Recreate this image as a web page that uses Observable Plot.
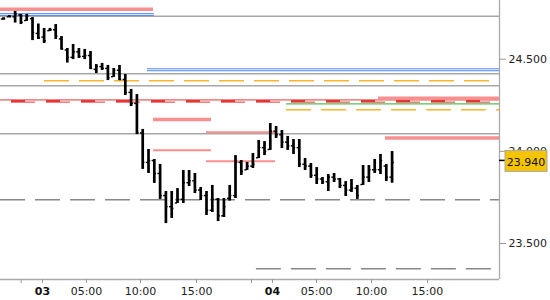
<!DOCTYPE html>
<html>
<head>
<meta charset="utf-8">
<script src="https://cdn.jsdelivr.net/npm/d3@7"></script>
<script src="https://cdn.jsdelivr.net/npm/@observablehq/plot@0.6"></script>
<style>
  html, body { margin: 0; padding: 0; background: #fff; }
  #chart svg { display: block; font-family: "DejaVu Sans", sans-serif; }
</style>
</head>
<body>
<div id="chart"></div>
<script>
// ---- OHLC bars (one per bar slot, left to right) ----
const highs = [24.725,24.737,24.759,24.743,24.743,24.726,24.691,24.667,24.667,24.688,
  24.623,24.558,24.580,24.558,24.553,24.542,24.471,24.477,24.466,24.450,
  24.466,24.417,24.336,24.308,24.119,24.010,23.956,23.929,23.782,23.782,
  23.798,23.896,23.896,23.880,23.804,23.782,23.815,23.744,23.744,23.815,
  23.977,23.950,23.940,23.988,24.059,24.053,24.151,24.135,24.113,24.081,
  24.064,24.064,23.961,23.934,23.912,23.858,23.874,23.880,23.853,23.836,
  23.847,23.815,23.923,23.923,23.956,23.983,23.929,23.999];
const lows = [24.712,24.727,24.696,24.688,24.705,24.601,24.607,24.585,24.650,24.607,
  24.550,24.479,24.498,24.504,24.498,24.444,24.422,24.439,24.384,24.401,
  24.384,24.303,24.243,24.091,23.902,23.880,23.826,23.739,23.608,23.636,
  23.717,23.717,23.809,23.771,23.733,23.652,23.668,23.619,23.641,23.730,
  23.744,23.869,23.896,23.907,23.961,23.977,24.005,24.070,24.015,24.005,
  23.983,23.912,23.896,23.853,23.820,23.820,23.782,23.831,23.798,23.755,
  23.777,23.739,23.815,23.831,23.880,23.874,23.836,23.827];
const opens = [24.718,24.730,24.730,24.740,24.710,24.720,24.640,24.620,24.655,24.660,
  24.610,24.550,24.510,24.540,24.515,24.520,24.445,24.460,24.450,24.405,
  24.440,24.390,24.320,24.260,24.100,23.940,23.950,23.880,23.760,23.700,
  23.720,23.740,23.830,23.840,23.790,23.760,23.680,23.740,23.650,23.745,
  23.760,23.940,23.900,23.920,23.965,24.020,24.010,24.110,24.090,24.050,
  24.030,24.020,23.930,23.920,23.870,23.850,23.835,23.860,23.850,23.815,
  23.790,23.800,23.820,23.860,23.900,23.900,23.920,23.860];
const closes = [24.720,24.730,24.745,24.700,24.735,24.645,24.615,24.600,24.660,24.625,
  24.555,24.510,24.540,24.515,24.520,24.450,24.460,24.450,24.400,24.440,
  24.390,24.320,24.260,24.100,23.940,23.950,23.880,23.760,23.700,23.690,
  23.740,23.830,23.840,23.790,23.760,23.680,23.740,23.650,23.700,23.760,
  23.940,23.890,23.920,23.930,24.020,24.000,24.110,24.090,24.050,24.030,
  24.020,23.930,23.920,23.870,23.850,23.835,23.860,23.850,23.815,23.790,
  23.800,23.760,23.860,23.900,23.900,23.950,23.860,23.940];

// ---- axes ----
const xStart = -0.52, xEnd = 85.52;          // bar-slot domain
const yMin = 23.3046, yMax = 24.8185;        // price domain
const yTicks = [23.5, 24.0, 24.5];
const xTickPos = [3.05, 6.72, 14.31, 23.62, 33.28, 42.76, 46.38, 53.97, 63.45, 73.1];
const xTickLabels = ["", "03", "05:00", "10:00", "15:00", "", "04", "05:00", "10:00", "15:00"];
const dayLabels = ["03", "04"];
const lastPrice = 23.940;

// ---- horizontal levels ----
const greySolidLevels = [24.733, 24.421, 24.356, 24.095];
const greyDashedLevels = [23.737, 23.363];
const greyDashedFrom = [xStart, 43.6];
const salmonThickLevels = [24.771, 24.173, 24.288, 24.072];
const salmonThickFrom = [xStart, 25.86, 64.66, 65.86];
const salmonThickTo = [25.86, 35.86, xEnd, xEnd];
const salmonThinLevels = [24.104, 24.006, 23.946];
const salmonThinFrom = [35.0, 25.86, 35.0];
const salmonThinTo = [46.9, 35.86, 46.9];
const blueLevels = [24.743, 24.443];
const blueFrom = [xStart, 24.83];
const blueTo = [26.0, xEnd];
const orangeLevels = [24.383, 24.226];
const orangeFrom = [7.07, 48.8];
const greenLevels = [24.258];
const greenFrom = [48.8];
const redLevels = [24.273];

// tables for the library
const bars = highs.map((h, i) => ({i, high: h, low: lows[i], open: opens[i], close: closes[i]}));
const seg = (levels, from, to) => levels.map((p, k) => ({p, from: from ? from[k] : xStart, to: to ? to[k] : xEnd}));
const ticksTable = xTickPos.map((pos, k) => ({pos, label: xTickLabels[k]}));

const chart = Plot.plot({
  width: 550,
  height: 279 + 21,
  marginLeft: 0,
  marginRight: 51,
  marginTop: 0,
  marginBottom: 21,
  x: {type: "linear", domain: [xStart, xEnd], axis: null},
  y: {type: "linear", domain: [yMin, yMax], axis: null},
  marks: [
    // grey reference lines
    Plot.ruleY(greySolidLevels, {stroke: "#a8a8a8", strokeWidth: 1.5}),
    Plot.ruleY(seg(greyDashedLevels, greyDashedFrom), {y: "p", x1: "from", x2: "to", stroke: "#888", strokeWidth: 1.4, strokeDasharray: "25,10"}),
    // blue bands
    Plot.ruleY(seg(blueLevels, blueFrom, blueTo), {y: "p", x1: "from", x2: "to", stroke: "#5a8ef0", strokeWidth: 3}),
    Plot.ruleY(seg(blueLevels, blueFrom, blueTo), {y: "p", x1: "from", x2: "to", stroke: "#e6efff", strokeWidth: 1}),
    // orange dashed
    Plot.ruleY(seg(orangeLevels, orangeFrom), {y: "p", x1: "from", x2: "to", stroke: "#fbb52b", strokeWidth: 1.5, strokeDasharray: "25,10"}),
    // green
    Plot.ruleY(seg(greenLevels, greenFrom), {y: "p", x1: "from", x2: "to", stroke: "#55bb55", strokeWidth: 1.3}),
    // red composite line
    Plot.ruleY(redLevels, {stroke: "#e53535", strokeWidth: 1, dy: -1.1}),
    Plot.ruleY(redLevels, {stroke: "#e53535", strokeWidth: 1, dy: 1.1, strokeDasharray: "24,11", strokeDashoffset: 24}),
    Plot.ruleY(redLevels, {stroke: "#e53535", strokeWidth: 2, strokeDasharray: "14,21", strokeDashoffset: 24}),
    // salmon levels
    Plot.ruleY(seg(salmonThickLevels, salmonThickFrom, salmonThickTo), {y: "p", x1: "from", x2: "to", stroke: "#f98f8f", strokeWidth: 3.5}),
    Plot.ruleY(seg(salmonThinLevels, salmonThinFrom, salmonThinTo), {y: "p", x1: "from", x2: "to", stroke: "#f98f8f", strokeWidth: 2}),
    // frame: bottom and right
    Plot.ruleY([yMin], {stroke: "#aaa", strokeWidth: 1.3}),
    Plot.ruleX([xEnd], {stroke: "#aaa", strokeWidth: 1.3}),
    // OHLC bars
    Plot.ruleX(bars, {x: "i", y1: "low", y2: "high", stroke: "#000", strokeWidth: 2.7}),
    Plot.ruleY(bars, {y: "open", x1: d => d.i - 0.38, x2: "i", stroke: "#000", strokeWidth: 1.4}),
    Plot.ruleY(bars, {y: "close", x1: "i", x2: d => d.i + 0.38, stroke: "#000", strokeWidth: 1.4}),
    // axes
    Plot.axisY(yTicks, {anchor: "right", tickSize: 6, tickPadding: 3, tickFormat: d => d.toFixed(3), stroke: "#999", fill: "#222", fontSize: 11}),
    Plot.axisX(xTickPos, {anchor: "bottom", tickSize: 4, tickFormat: () => "", stroke: "#999"}),
    Plot.text(ticksTable.filter(d => d.label && !dayLabels.includes(d.label)), {x: "pos", y: yMin, text: "label", dy: 12, fill: "#222", fontSize: 11}),
    Plot.text(ticksTable.filter(d => dayLabels.includes(d.label)), {x: "pos", y: yMin, text: "label", dy: 12, fill: "#111", fontSize: 11, fontWeight: "bold"})
  ]
});

// last price marker, positioned through the chart's y scale
const svg = d3.select(chart);
const yPx = chart.scale("y").apply(lastPrice);
const xPx = chart.scale("x").apply(xEnd);
const g = svg.append("g");
g.append("line").attr("x1", xPx).attr("x2", xPx + 6).attr("y1", yPx - 1.5).attr("y2", yPx - 1.5)
  .attr("stroke", "#000").attr("stroke-width", 1.5);
g.append("rect").attr("x", xPx + 6).attr("y", yPx - 11.5).attr("width", 42).attr("height", 21)
  .attr("fill", "#f5c400").attr("stroke", "#a8a8a8").attr("stroke-width", 1);
g.append("text").attr("x", xPx + 27).attr("y", yPx).attr("dy", "0.38em")
  .attr("text-anchor", "middle").attr("font-size", 11).attr("fill", "#111")
  .text(lastPrice.toFixed(3));

document.getElementById("chart").appendChild(chart);
</script>
</body>
</html>
